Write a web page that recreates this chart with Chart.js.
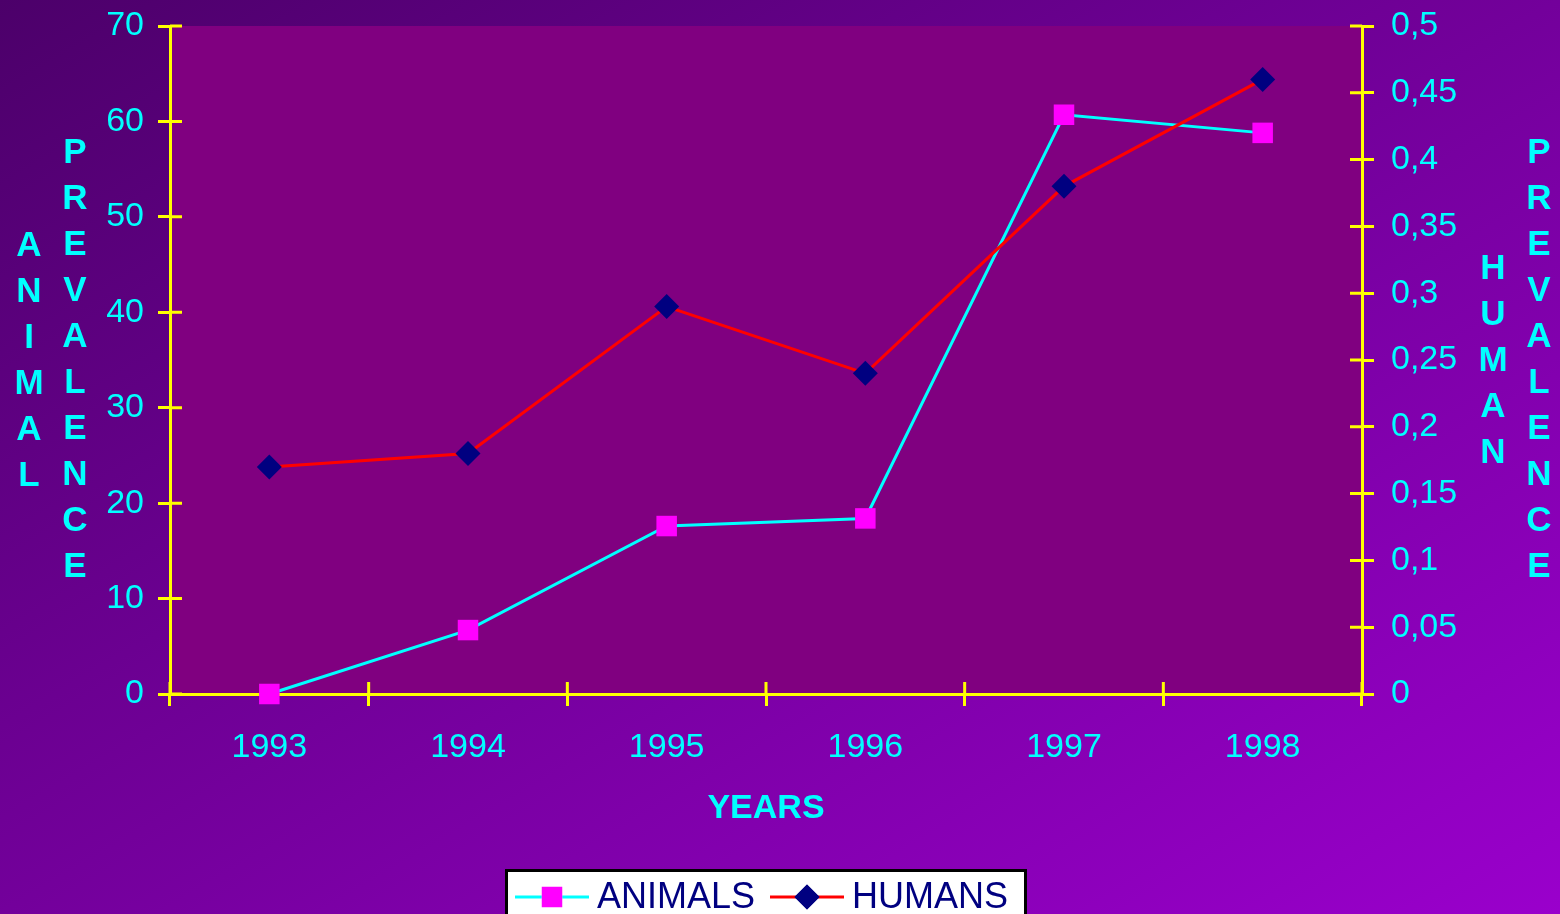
<!DOCTYPE html>
<html>
<head>
<meta charset="utf-8">
<script src="https://cdn.jsdelivr.net/npm/chart.js@4"></script>
<style>
  html, body { margin: 0; padding: 0; }
  body {
    width: 1560px; height: 914px; overflow: hidden;
    background: linear-gradient(to bottom right, #4c006a, #9a00cc);
  }
  canvas { display: block; }
</style>
</head>
<body>
<canvas id="myChart" width="1560" height="914"></canvas>
<script>
const years = ['1993', '1994', '1995', '1996', '1997', '1998'];
const animals = [0, 6.7, 17.6, 18.4, 60.7, 58.8];
const humans = [0.17, 0.18, 0.29, 0.24, 0.38, 0.46];

const CYAN = '#00ffff';
const YELLOW = '#ffff00';
const FONT = '"Liberation Sans", Arial, sans-serif';

// ---------- plot area fill ----------
const plotFill = {
    id: 'plotFill',
    beforeDraw(chart) {
        const a = chart.chartArea;
        const ctx = chart.ctx;
        ctx.save();
        ctx.fillStyle = '#800080';
        ctx.fillRect(a.left, a.top, a.right - a.left, a.bottom - a.top);
        ctx.restore();
    }
};

// ---------- tick stubs inside the plot ----------
const innerTicks = {
    id: 'innerTicks',
    afterDraw(chart) {
        const a = chart.chartArea;
        const ctx = chart.ctx;
        const y = chart.scales.y, y2 = chart.scales.y2, x = chart.scales.x;
        ctx.save();
        ctx.strokeStyle = YELLOW;
        ctx.lineWidth = 3;
        ctx.beginPath();
        y.ticks.forEach(t => {
            const p = y.getPixelForValue(t.value);
            ctx.moveTo(a.left, p); ctx.lineTo(a.left + 12, p);
        });
        y2.ticks.forEach(t => {
            const p = y2.getPixelForValue(t.value);
            ctx.moveTo(a.right - 12, p); ctx.lineTo(a.right, p);
        });
        for (let i = 0; i <= years.length; i++) {
            const p = x.getPixelForValue(i - 0.5);
            ctx.moveTo(p, a.bottom - 12); ctx.lineTo(p, a.bottom);
        }
        ctx.stroke();
        ctx.restore();
    }
};

// ---------- stacked axis titles ----------
function drawColumn(ctx, word, x, y0) {
    for (let i = 0; i < word.length; i++) {
        ctx.fillText(word[i], x, y0 + i * 46);
    }
}

const stackedTitles = {
    id: 'stackedTitles',
    afterDraw(chart) {
        const ctx = chart.ctx;
        ctx.save();
        ctx.font = 'bold 35px ' + FONT;
        ctx.fillStyle = CYAN;
        ctx.textAlign = 'center';
        ctx.textBaseline = 'middle';
        drawColumn(ctx, 'ANIMAL', 29, 246);
        drawColumn(ctx, 'PREVALENCE', 75, 153);
        drawColumn(ctx, 'HUMAN', 1493, 269);
        drawColumn(ctx, 'PREVALENCE', 1539, 153);
        ctx.restore();
    }
};

// ---------- legend box ----------
const boxLegend = {
    id: 'boxLegend',
    afterDraw(chart) {
        const ctx = chart.ctx;
        ctx.save();
        ctx.fillStyle = '#ffffff';
        ctx.fillRect(505, 869, 522, 60);
        ctx.strokeStyle = '#000000';
        ctx.lineWidth = 3;
        ctx.strokeRect(506.5, 870.5, 519, 60);

        const items = [
            { ds: chart.data.datasets[0], x0: 515, x1: 589, text: 'ANIMALS', tx: 597 },
            { ds: chart.data.datasets[1], x0: 770, x1: 844, text: 'HUMANS', tx: 852 },
        ];
        const ly = 897;
        items.forEach(it => {
            ctx.strokeStyle = it.ds.borderColor;
            ctx.lineWidth = 3;
            ctx.beginPath();
            ctx.moveTo(it.x0, ly); ctx.lineTo(it.x1, ly);
            ctx.stroke();
            Chart.helpers.drawPoint(ctx, {
                pointStyle: it.ds.pointStyle,
                radius: it.ds.pointRadius,
                rotation: 0,
                borderWidth: 0,
            }, (it.x0 + it.x1) / 2, ly);
            ctx.fillStyle = it.ds.pointBackgroundColor;
            ctx.fill();
            ctx.fillStyle = '#000080';
            ctx.font = '36px ' + FONT;
            ctx.textAlign = 'left';
            ctx.textBaseline = 'middle';
            ctx.fillText(it.text, it.tx, ly + 1);
        });
        ctx.restore();
    }
};

const data = {
    labels: years,
    datasets: [{
        label: 'ANIMALS',
        data: animals,
        yAxisID: 'y',
        borderColor: CYAN,
        borderWidth: 3,
        pointStyle: 'rect',
        pointRadius: 14.5,
        pointHoverRadius: 14.5,
        pointBackgroundColor: '#ff00ff',
        pointBorderWidth: 0,
        clip: false,
        order: 1,
    }, {
        label: 'HUMANS',
        data: humans,
        yAxisID: 'y2',
        borderColor: '#ff0000',
        borderWidth: 3,
        pointStyle: 'rectRot',
        pointRadius: 12.5,
        pointHoverRadius: 12.5,
        pointBackgroundColor: '#000080',
        pointBorderWidth: 0,
        clip: false,
        order: 0,
    }]
};

const tickFont = { family: FONT, size: 34 };

function noVPad(s) {
    s.paddingTop = 0;
    s.paddingBottom = 0;
}

const config = {
    type: 'line',
    data: data,
    options: {
        responsive: false,
        animation: false,
        events: [],
        layout: { padding: { top: 26, left: 0, right: 0, bottom: 0 } },
        plugins: {
            legend: { display: false },
            tooltip: { enabled: false },
        },
        scales: {
            x: {
                offset: true,
                grid: { offset: true, drawOnChartArea: false, color: YELLOW, lineWidth: 3, tickLength: 12 },
                border: { color: YELLOW, width: 3 },
                ticks: { color: CYAN, font: tickFont, padding: 21, maxRotation: 0 },
                title: {
                    display: true, text: 'YEARS', color: CYAN,
                    font: { family: FONT, size: 34, weight: 'bold' },
                    padding: { top: 0, bottom: 85 },
                },
                afterFit(s) { s.height = 220; s.paddingLeft = 0; s.paddingRight = 0; },
            },
            y: {
                position: 'left',
                min: 0, max: 70,
                ticks: { stepSize: 10, color: CYAN, font: tickFont, padding: 14 },
                grid: { drawOnChartArea: false, color: YELLOW, lineWidth: 3, tickLength: 12 },
                border: { color: YELLOW, width: 3 },
                afterFit(s) { s.width = 170; noVPad(s); },
            },
            y2: {
                position: 'right',
                min: 0, max: 0.5,
                ticks: {
                    stepSize: 0.05, color: CYAN, font: tickFont, padding: 17,
                    callback: v => String(Math.round(v * 100) / 100).replace('.', ','),
                },
                grid: { drawOnChartArea: false, color: YELLOW, lineWidth: 3, tickLength: 12 },
                border: { color: YELLOW, width: 3 },
                afterFit(s) { s.width = 198; noVPad(s); },
            },
        },
    },
    plugins: [plotFill, innerTicks, stackedTitles, boxLegend],
};

const myChart = new Chart(document.getElementById('myChart'), config);
</script>
</body>
</html>
